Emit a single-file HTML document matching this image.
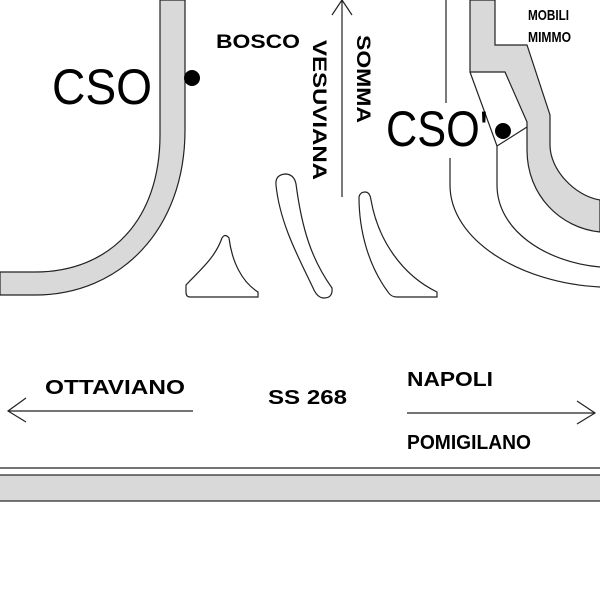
<!DOCTYPE html>
<html><head><meta charset="utf-8"><style>body{margin:0;background:#fff}svg{display:block}text{font-family:"Liberation Sans",Arial,sans-serif;font-weight:bold;fill:#000}</style></head><body>
<svg width="600" height="600" viewBox="0 0 600 600">
<g stroke="#222" stroke-width="1.2" fill="none">
<path d="M185,0 V130 C185,230 120,295 35,295 H0 V272 H35 C110,272 160,220 160,135 V0 Z" fill="#d9d9d9"/>
<path d="M470,0 V72 H505 L527,122 V150 C527,195 560,228 600,232 V200 C575,196 550,170 550,145 V115 L527,45 H495 V0 Z" fill="#d9d9d9"/>
<path d="M470,72 L497,146 L527,127"/>
<path d="M497,146 V185 C497,230 545,262 600,267"/>
<path d="M450,158 V185 C450,240 520,283 600,287"/>
<line x1="446" y1="0" x2="446" y2="103"/>
<line x1="342" y1="0" x2="342" y2="197"/>
<path d="M332,15 L342,0 L352,15"/>
<path d="M186,285 C200,270 215,258 222,238 Q225,233 229,238 C232,262 242,282 258,292 V297 H190 Q186,297 186,292 Z"/>
<path d="M276,185 Q275,175 285,174 Q294,174 296,184 C302,230 312,260 332,288 Q333,298 324,298 Q318,298 314,290 C300,260 280,225 276,185 Z"/>
<path d="M359,197 Q360,192 365,192 Q370,192 371,200 C378,240 402,275 437,292 V297 H397 Q391,297 388,292 C368,265 359,230 359,197 Z"/>
<line x1="8" y1="411" x2="193" y2="411"/>
<path d="M26,398 L8,411 L26,422"/>
<line x1="407" y1="413" x2="595" y2="413"/>
<path d="M577,401 L595,413 L577,424"/>
<line x1="0" y1="468" x2="600" y2="468"/>
<rect x="-2" y="475" width="604" height="26" fill="#d9d9d9"/>
</g>
<circle cx="192" cy="78" r="8"/>
<circle cx="503" cy="131" r="8"/>
<text x="52" y="104" font-size="50" font-weight="normal" textLength="100" lengthAdjust="spacingAndGlyphs" style="font-weight:normal">CSO</text>
<text x="386" y="146" font-size="50" textLength="102" lengthAdjust="spacingAndGlyphs" style="font-weight:normal">CSO'</text>
<text x="216" y="48" font-size="19" textLength="84" lengthAdjust="spacingAndGlyphs">BOSCO</text>
<text x="528" y="20" font-size="15" textLength="41" lengthAdjust="spacingAndGlyphs">MOBILI</text>
<text x="528" y="42" font-size="15" textLength="43" lengthAdjust="spacingAndGlyphs">MIMMO</text>
<text transform="translate(313,40) rotate(90)" font-size="19" textLength="140" lengthAdjust="spacingAndGlyphs">VESUVIANA</text>
<text transform="translate(357,35) rotate(90)" font-size="19" textLength="88" lengthAdjust="spacingAndGlyphs">SOMMA</text>
<text x="45" y="394" font-size="20" textLength="140" lengthAdjust="spacingAndGlyphs">OTTAVIANO</text>
<text x="268" y="404" font-size="20" textLength="79" lengthAdjust="spacingAndGlyphs">SS 268</text>
<text x="407" y="386" font-size="20" textLength="86" lengthAdjust="spacingAndGlyphs">NAPOLI</text>
<text x="407" y="449" font-size="20" textLength="124" lengthAdjust="spacingAndGlyphs">POMIGILANO</text>
</svg>
</body></html>
